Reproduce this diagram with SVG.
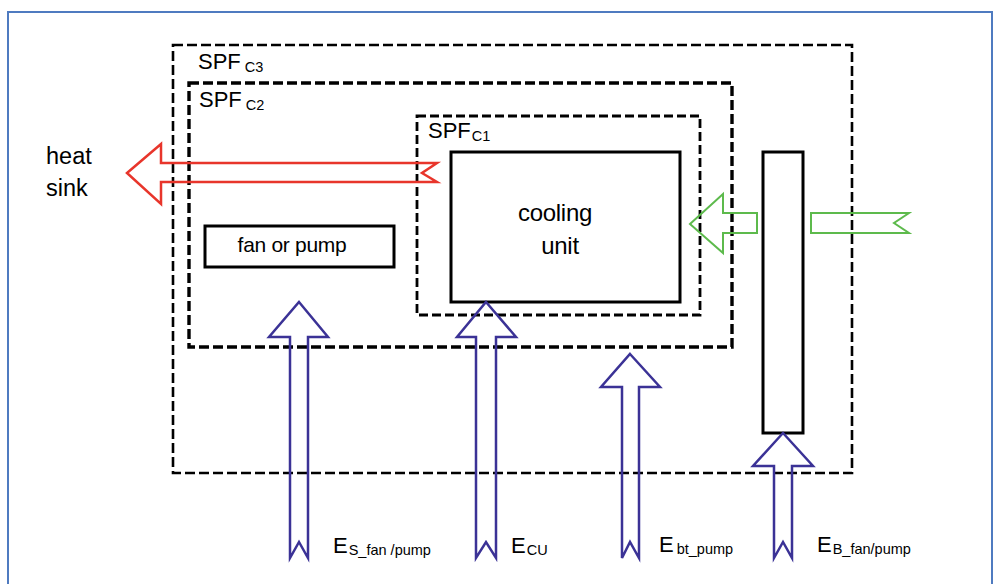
<svg xmlns="http://www.w3.org/2000/svg" width="998" height="584" viewBox="0 0 998 584">
<style>
text{font-family:"Liberation Sans",Arial,sans-serif;fill:#000}
.box{fill:none;stroke:#000}
.d3{stroke-width:2.6;stroke-dasharray:10 4}
.d2{stroke-width:3.4;stroke-dasharray:10 4}
.d1{stroke-width:2.8;stroke-dasharray:9 4}
.solid{fill:none;stroke:#000;stroke-width:3}
.blue{fill:none;stroke:#3b3296;stroke-width:2.5;stroke-linejoin:miter}
.red{fill:none;stroke:#e8352b;stroke-width:2.5}
.green{fill:none;stroke:#5dba4c;stroke-width:2}
.big{font-size:22px}
.sub{font-size:14.5px}
</style>
<rect x="8" y="12" width="984" height="590" fill="#fff" stroke="#4f7bc0" stroke-width="2"/>
<g id="spf-c3"><rect class="box d3" x="173" y="45" width="679" height="428"/><text class="big" x="198" y="69">SPF<tspan class="sub" dx="4" dy="3">C3</tspan></text></g>
<g id="spf-c2"><rect class="box d2" x="189" y="83" width="543" height="264"/><text class="big" x="199" y="107">SPF<tspan class="sub" dx="4" dy="3">C2</tspan></text></g>
<g id="spf-c1"><rect class="box d1" x="417" y="116" width="283" height="199"/><text class="big" x="428" y="138">SPF<tspan class="sub" dx="1" dy="3">C1</tspan></text></g>
<g id="cooling-unit"><rect class="solid" x="451" y="152" width="229" height="150"/><text x="555" y="221" font-size="24" text-anchor="middle" letter-spacing="-0.3">cooling</text><text x="560" y="254" font-size="24" text-anchor="middle" letter-spacing="-0.3">unit</text></g>
<g id="fan-pump"><rect class="solid" x="205" y="226" width="189" height="41"/><text x="292" y="252" font-size="21" text-anchor="middle" letter-spacing="-0.3">fan or pump</text></g>
<g id="borehole"><rect class="solid" x="763" y="152" width="40" height="281"/></g>
<g id="heat-sink"><text x="46" y="164" font-size="23.5">heat</text><text x="46" y="196" font-size="23.5">sink</text></g>
<g id="connectors">
<polygon class="red" points="127,173 161,144 161,163 437,163 422,173 437,182 161,182 161,204"/>
<polygon class="green" points="690,224 723,194 723,213 757,213 757,233 723,233 723,253"/>
<polygon class="green" points="811,213 909,213 894,223 909,233 811,233"/>
<polygon class="blue" points="299,302 328,337 308,337 308,558 299,542 290,558 290,337 269,337"/>
<polygon class="blue" points="486,302 516,337 496,337 496,558 486,542 476,558 476,337 457,337"/>
<polygon class="blue" points="630,354 660,387 639,387 639,558 630,542 622,558 622,387 601,387"/>
<polygon class="blue" points="783,433 813,466 792,466 792,558 783,542 774,558 774,466 753,466"/>
</g>
<g id="labels">
<text class="big" x="333" y="553">E<tspan class="sub" dx="1" dy="2">S_fan /pump</tspan></text>
<text class="big" x="511" y="553">E<tspan class="sub" dx="1" dy="2">CU</tspan></text>
<text class="big" x="659" y="552">E<tspan class="sub" dx="3" dy="2">bt_pump</tspan></text>
<text class="big" x="817" y="552">E<tspan class="sub" dx="1" dy="2">B_fan/pump</tspan></text>
</g>
</svg>
